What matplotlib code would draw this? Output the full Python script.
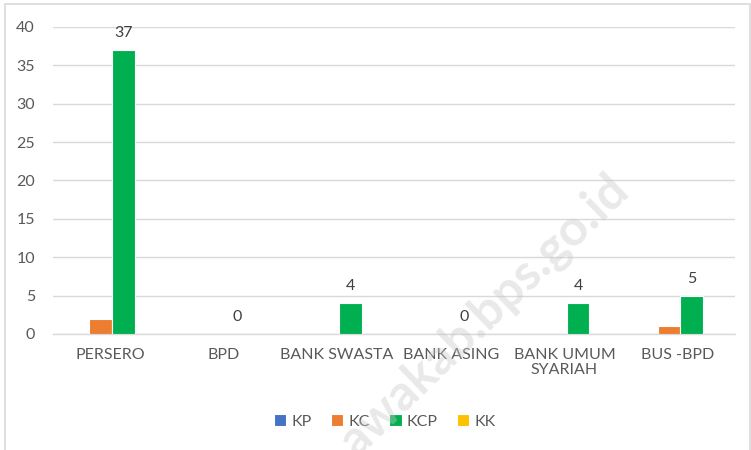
import numpy as np
import matplotlib.pyplot as plt
from matplotlib.patches import Rectangle

categories = ["PERSERO", "BPD", "BANK SWASTA", "BANK ASING", "BANK UMUM\nSYARIAH", "BUS -BPD"]
series_names = ["KP", "KC", "KCP", "KK"]
kp = [0, 0, 0, 0, 0, 0]
kc = [2, 0, 0, 0, 0, 1]
kcp = [37, 0, 4, 0, 4, 5]
kk = [0, 0, 0, 0, 0, 0]
colors = ["#4472C4", "#ED7D31", "#00B050", "#FFC000"]

plt.rcParams['font.family'] = ['Lato', 'DejaVu Sans']
text_color = "#595959"
grid_color = "#d9d9d9"

fig = plt.figure(figsize=(7.51, 4.5), dpi=100)
ax = fig.add_axes([0.0706, 0.258, 0.908, 0.682])

x = np.arange(len(categories))
width = 0.2
all_series = [kp, kc, kcp, kk]
bars = []
for i, (vals, name, col) in enumerate(zip(all_series, series_names, colors)):
    b = ax.bar(x + (i - 1.5) * width + 0.02, vals, width, color=col, label=name,
               edgecolor="white", linewidth=0.8, zorder=3)
    bars.append(b)

# only KCP carries data labels
ax.bar_label(bars[2], labels=[str(v) for v in kcp], padding=7,
             fontsize=11.5, color="#404040")

ax.set_xlim(-0.5, len(categories) - 0.5)
ax.set_ylim(0, 40)
ax.set_yticks(np.arange(0, 41, 5))
ax.set_xticks(x)
ax.set_xticklabels(categories, fontsize=11.5, color=text_color, linespacing=1.1)
ax.tick_params(axis='y', labelsize=11.5, labelcolor=text_color, length=0, pad=13)
ax.tick_params(axis='x', length=0, pad=10)
ax.grid(axis='y', color=grid_color, linewidth=1, zorder=0)
for s in ["top", "right", "left"]:
    ax.spines[s].set_visible(False)
ax.spines["bottom"].set_color(grid_color)
ax.spines["bottom"].set_linewidth(1)
ax.set_axisbelow(True)

leg = fig.legend(loc="center", bbox_to_anchor=(0.512, 0.064), ncol=4, frameon=False,
                 fontsize=11.5, handlelength=0.8, handleheight=0.8, handletextpad=0.3,
                 columnspacing=1.2)
for t in leg.get_texts():
    t.set_color(text_color)

# chart frame
fig.patches.append(Rectangle((5 / 751, -0.05), 745 / 751, 1.05 - 4 / 450,
                             transform=fig.transFigure, fill=False,
                             edgecolor=grid_color, linewidth=1.2))

# watermark
fig.text(0.645, 0.3, "awakab.bps.go.id", fontsize=36, fontweight="bold",
         color="#c8c8c8", alpha=0.4, rotation=44, ha="center", va="center",
         zorder=10)

fig.savefig("out.png", dpi=100)
